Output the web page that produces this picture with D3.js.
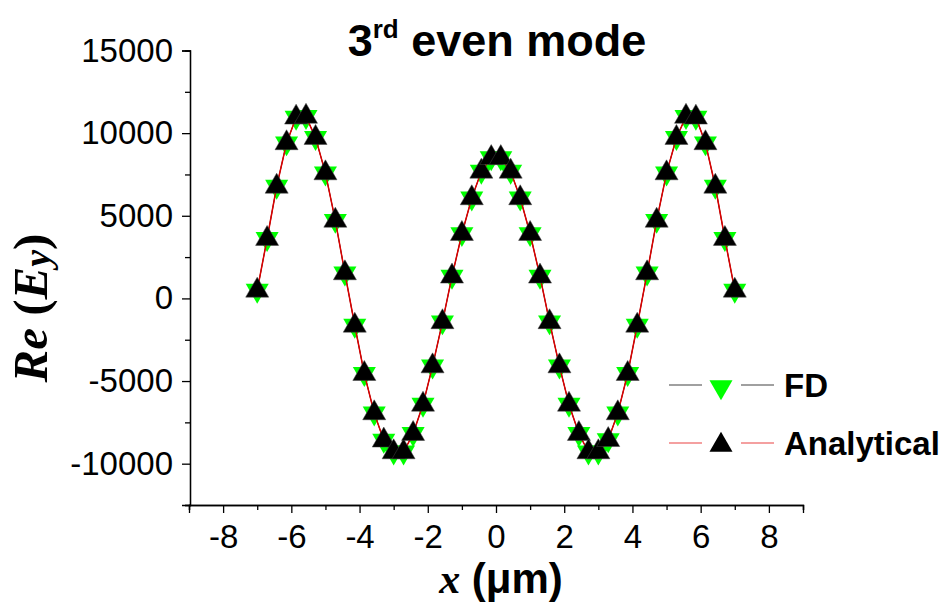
<!DOCTYPE html>
<html>
<head>
<meta charset="utf-8">
<script src="https://cdn.jsdelivr.net/npm/d3@7"></script>
<style>
  body { margin: 0; background: #fff; }
  svg { display: block; }
</style>
</head>
<body>
<svg id="chart" width="949" height="605"></svg>
<script>

// x positions of the sample points (um)
var xValues = [-7, -6.71, -6.43, -6.14, -5.86, -5.57, -5.29, -5, -4.71, -4.43,
  -4.14, -3.86, -3.57, -3.29, -3, -2.71, -2.43, -2.14, -1.86, -1.57,
  -1.29, -1, -0.71, -0.43, -0.14, 0.14, 0.43, 0.71, 1, 1.29,
  1.57, 1.86, 2.14, 2.43, 2.71, 3, 3.29, 3.57, 3.86, 4.14,
  4.43, 4.71, 5, 5.29, 5.57, 5.86, 6.14, 6.43, 6.71, 7];

var fdValues = [480, 3610, 6770, 9400, 10950, 11000, 9720, 7580, 4710, 1530,
  -1640, -4560, -6940, -8590, -9300, -9300, -8190, -6420, -4100, -1430,
  1330, 3910, 6070, 7680, 8500, 8500, 7680, 6070, 3910, 1330,
  -1430, -4100, -6420, -8190, -9300, -9300, -8560, -6940, -4560, -1640,
  1530, 4710, 7580, 9720, 11000, 10950, 9400, 6770, 3610, 480];

var analyticalValues = [480, 3610, 6770, 9400, 10950, 11000, 9720, 7580, 4710, 1530,
  -1640, -4560, -6940, -8590, -9300, -9300, -8190, -6420, -4100, -1430,
  1330, 3910, 6070, 7680, 8500, 8500, 7680, 6070, 3910, 1330,
  -1430, -4100, -6420, -8190, -9300, -9300, -8560, -6940, -4560, -1640,
  1530, 4710, 7580, 9720, 11000, 10950, 9400, 6770, 3610, 480];

var xTicks = [-8, -6, -4, -2, 0, 2, 4, 6, 8];
var xMinorTicks = [-9, -7, -5, -3, -1, 1, 3, 5, 7, 9];
var yTicks = [-10000, -5000, 0, 5000, 10000, 15000];
var yMinorTicks = [-12500, -7500, -2500, 2500, 7500, 12500];

var sans = "'Liberation Sans', Arial, sans-serif",
    serif = "'Liberation Serif', 'Times New Roman', serif";

var svg = d3.select("#chart");

var x = d3.scaleLinear().domain([-9, 9]).range([189, 803]);
var y = d3.scaleLinear().domain([-12500, 15000]).range([505, 50.5]);

// axes
function styleAxis(g) {
  g.select(".domain").attr("stroke", "#000").attr("stroke-width", 1.3);
  g.selectAll(".tick line").attr("stroke", "#000").attr("stroke-width", 1.3);
  g.selectAll(".tick text").attr("font-family", sans).attr("font-size", "33px").attr("fill", "#000");
}

svg.append("g")
    .attr("transform", "translate(0,505)")
    .call(d3.axisBottom(x).tickValues(xMinorTicks).tickSize(5).tickFormat(""))
    .call(styleAxis);

svg.append("g")
    .attr("transform", "translate(0,505)")
    .call(d3.axisBottom(x).tickValues(xTicks).tickSize(8).tickPadding(12).tickFormat(d3.format("d")))
    .call(styleAxis)
    .selectAll(".tick text").text(function(d) { return d < 0 ? "-" + Math.abs(d) : d; });

svg.append("g")
    .attr("transform", "translate(190,0)")
    .call(d3.axisLeft(y).tickValues(yMinorTicks).tickSize(5).tickFormat(""))
    .call(styleAxis);

svg.append("g")
    .attr("transform", "translate(190,0)")
    .call(d3.axisLeft(y).tickValues(yTicks).tickSize(8).tickPadding(9))
    .call(styleAxis)
    .selectAll(".tick text").text(function(d) { return d < 0 ? "-" + Math.abs(d) : d; });

// data
var fdData = xValues.map(function(v, i) { return {x: v, y: fdValues[i]}; });
var anData = xValues.map(function(v, i) { return {x: v, y: analyticalValues[i]}; });

var line = d3.line()
    .x(function(d) { return x(d.x); })
    .y(function(d) { return y(d.y); });

var tri = d3.symbol().type(d3.symbolTriangle).size(230);

svg.append("path")
    .datum(fdData)
    .attr("d", line)
    .attr("fill", "none")
    .attr("stroke", "#000")
    .attr("stroke-width", 1);

svg.selectAll(".fd")
    .data(fdData)
  .enter().append("path")
    .attr("class", "fd")
    .attr("d", tri)
    .attr("transform", function(d) { return "translate(" + x(d.x) + "," + y(d.y) + ") rotate(180)"; })
    .attr("fill", "#00ff00");

svg.append("path")
    .datum(anData)
    .attr("d", line)
    .attr("fill", "none")
    .attr("stroke", "#dd0000")
    .attr("stroke-width", 1.5);

svg.selectAll(".an")
    .data(anData)
  .enter().append("path")
    .attr("class", "an")
    .attr("d", tri)
    .attr("transform", function(d) { return "translate(" + x(d.x) + "," + y(d.y) + ")"; })
    .attr("fill", "#000")
    .attr("stroke", "#444")
    .attr("stroke-width", 0.5);

// legend
var legend = [
  {name: "FD", line: "#808080", fill: "#00ff00", rot: 180, y: 385},
  {name: "Analytical", line: "#f08080", fill: "#000", rot: 0, y: 443}
];

var lg = svg.selectAll(".legend")
    .data(legend)
  .enter().append("g")
    .attr("class", "legend")
    .attr("transform", function(d) { return "translate(0," + d.y + ")"; });

lg.append("line").attr("x1", 669).attr("x2", 702)
    .attr("stroke", function(d) { return d.line; }).attr("stroke-width", 1.5);
lg.append("line").attr("x1", 741).attr("x2", 774)
    .attr("stroke", function(d) { return d.line; }).attr("stroke-width", 1.5);
lg.append("path")
    .attr("d", tri)
    .attr("transform", function(d) { return "translate(721,2) rotate(" + d.rot + ")"; })
    .attr("fill", function(d) { return d.fill; });
lg.append("text")
    .attr("x", 784)
    .attr("y", 12)
    .attr("font-family", sans)
    .attr("font-weight", "bold")
    .attr("font-size", "33px")
    .text(function(d) { return d.name; });

// title
var title = svg.append("text")
    .attr("x", 497)
    .attr("y", 56)
    .attr("text-anchor", "middle")
    .attr("font-family", sans)
    .attr("font-weight", "bold")
    .attr("font-size", "45px");
title.append("tspan").text("3");
title.append("tspan").attr("font-size", "26px").attr("dy", -18).text("rd");
title.append("tspan").attr("dy", 18).text(" even mode");

// x axis title
var xt = svg.append("text")
    .attr("x", 501)
    .attr("y", 593)
    .attr("text-anchor", "middle")
    .attr("font-weight", "bold")
    .attr("font-size", "42px");
xt.append("tspan").attr("font-family", serif).attr("font-style", "italic").text("x");
xt.append("tspan").attr("font-family", sans).text(" (\u03bcm)");

// y axis title
var yt = svg.append("text")
    .attr("transform", "translate(47,308) rotate(-90)")
    .attr("text-anchor", "middle")
    .attr("font-family", serif)
    .attr("font-weight", "bold")
    .attr("font-size", "49px");
yt.append("tspan").attr("font-style", "italic").text("Re");
yt.append("tspan").text(" (");
yt.append("tspan").attr("font-style", "italic").text("E");
yt.append("tspan").attr("font-style", "italic").attr("font-size", "38px").attr("dy", 3).text("y");
yt.append("tspan").attr("dy", -3).text(")");

</script>
</body>
</html>
